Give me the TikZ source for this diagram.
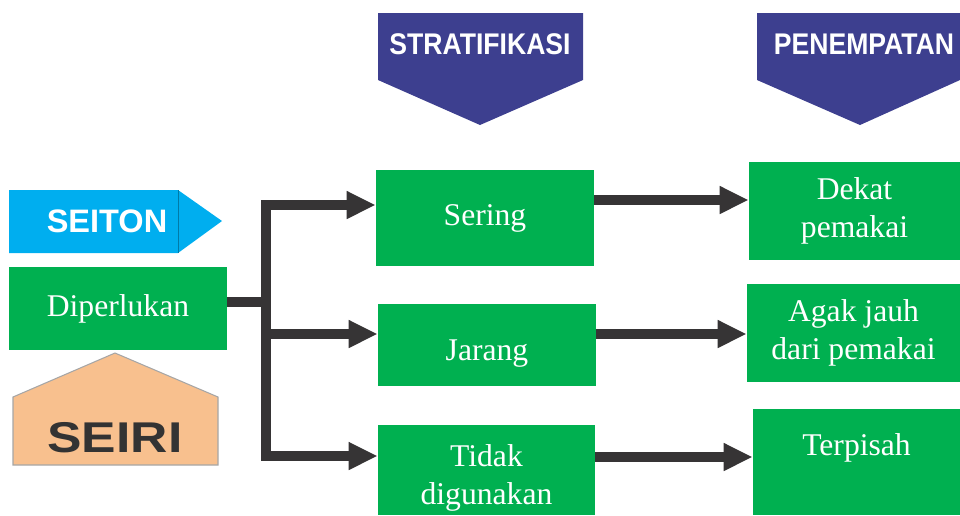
\documentclass[tikz,border=0pt]{standalone}
\usepackage{fontspec}
\setmainfont{Liberation Serif}
\setsansfont{Liberation Sans}
\usetikzlibrary{arrows.meta}
\definecolor{boxgreen}{HTML}{00B050}
\definecolor{seitonblue}{HTML}{00AEEF}
\definecolor{bannerblue}{HTML}{3D3F8F}
\definecolor{seiripeach}{HTML}{F8C08E}
\definecolor{seiritext}{HTML}{333333}
\definecolor{arrowdark}{HTML}{363435}

\begin{document}
\begin{tikzpicture}[x=0.02cm,y=-0.02cm,
  >={Triangle[length=0.58cm,width=0.52cm]},
  gbox/.style={fill=boxgreen,text=white,align=center,inner sep=0pt,font=\fontsize{18}{21.5}\selectfont},
  flow/.style={draw=arrowdark,line width=0.2cm,line join=miter},
  banner/.style={text=white,font=\sffamily\bfseries\fontsize{17}{20}\selectfont}]
\useasboundingbox (0,0) rectangle (960,515);

\fill[seitonblue] (9,190) -- (178,190) -- (222,221) -- (178,253) -- (9,253) -- cycle;
\draw[seitonblue!70!black,line width=0.3pt] (178,190) -- (178,253);
\node[text=white,font=\sffamily\bfseries\fontsize{18.5}{22}\selectfont] (seiton) at (107,221) {SEITON};

\filldraw[fill=seiripeach,draw=gray!70,line width=0.6pt] (13,397) -- (115,353) -- (218,397) -- (218,465) -- (13,465) -- cycle;
\node[text=seiritext,font=\sffamily\bfseries\fontsize{24.5}{28}\selectfont] (seiri) at (115,438) {\scalebox{1.2}[1]{SEIRI}};

\fill[bannerblue] (378,13) -- (583,13) -- (583,80) -- (480,125) -- (378,80) -- cycle;
\node[banner] (strat) at (480,44) {\scalebox{0.89}[1]{STRATIFIKASI}};
\fill[bannerblue] (757,13) -- (960,13) -- (960,80) -- (860,125) -- (757,80) -- cycle;
\node[banner] (tempat) at (864,44) {\scalebox{0.89}[1]{PENEMPATAN}};

\node[gbox,minimum width=4.36cm,minimum height=1.66cm] (dip) at (118,308.5) {Diperlukan};
\node[gbox,minimum width=4.36cm,minimum height=1.92cm] (sering) at (485,218) {Sering};
\node[gbox,minimum width=4.36cm,minimum height=1.64cm,text height=0.76cm] (jarang) at (487,345) {Jarang};
\node[gbox,minimum width=4.34cm,minimum height=1.8cm] (tidak) at (486.5,470) {\rule{0pt}{0.76cm}Tidak\\digunakan};
\node[gbox,minimum width=4.22cm,minimum height=1.96cm] (dekat) at (854.5,211) {Dekat\\pemakai};
\node[gbox,minimum width=4.26cm,minimum height=1.96cm] (agak) at (853.5,333) {Agak jauh\\dari pemakai};
\node[gbox,minimum width=4.14cm,minimum height=2.12cm,text depth=0.7cm] (terpisah) at (856.5,462) {Terpisah};

\coordinate (split) at (266,302);
\draw[flow] (dip.east |- split) -- (split);
\draw[flow,->] (split) |- ([yshift=0.26cm]sering.west);
\draw[flow,->] (split) |- ([yshift=0.22cm]jarang.west);
\draw[flow,->] (split) |- ([yshift=0.28cm]tidak.west);

\draw[flow,->] (sering.east |- 0,200) -- (dekat.west |- 0,200);
\draw[flow,->] (jarang.east |- 0,334) -- (agak.west |- 0,334);
\draw[flow,->] (tidak.east |- 0,457) -- (terpisah.west |- 0,457);
\end{tikzpicture}
\end{document}
